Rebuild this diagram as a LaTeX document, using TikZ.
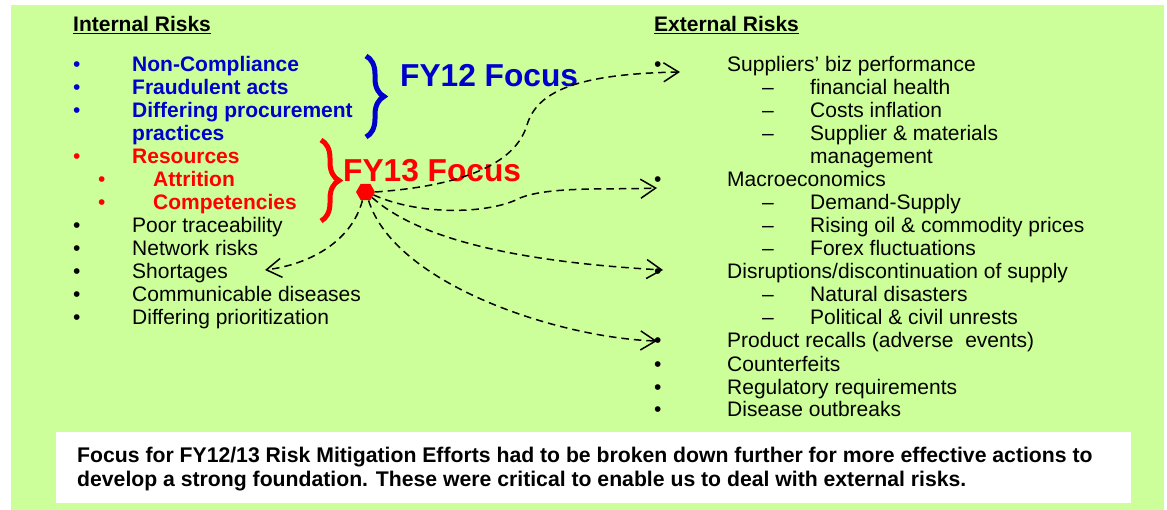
\documentclass[tikz,border=0pt]{standalone}
\usepackage{fontspec}
\setmainfont{Liberation Sans}
\usetikzlibrary{arrows.meta,shapes.geometric,decorations.pathreplacing}
\definecolor{panelgreen}{RGB}{204,255,153}
\definecolor{focusblue}{RGB}{0,0,204}
\definecolor{focusred}{RGB}{255,0,0}
\begin{document}
\begin{tikzpicture}[x=1pt,y=-1pt,
  txt/.style={anchor=base west, inner sep=0pt, font=\fontsize{21}{23}\selectfont},
  head/.style={txt, font=\fontsize{21}{23}\selectfont\bfseries},
  blueitem/.style={txt, text=focusblue, font=\fontsize{21}{23}\selectfont\bfseries},
  reditem/.style={txt, text=focusred, font=\fontsize{21}{23}\selectfont\bfseries},
  focuslabel/.style={anchor=base west, inner sep=0pt, font=\fontsize{31.7}{34}\selectfont\bfseries},
  note/.style={anchor=base west, inner sep=0pt, font=\fontsize{21.2}{24}\selectfont\bfseries},
  link/.style={dashed, dash pattern=on 7.5pt off 5pt, line width=1.5pt,
    -{Straight Barb[length=15pt, width=19pt, line width=1.5pt]}},
  bracemark/.style={decorate, line width=5pt},
]
\useasboundingbox (0,0) rectangle (1167,510);
% panel and summary box
\fill[panelgreen] (11,5) rectangle (1164,510);
\fill[white] (56,432) rectangle (1131,503);

% ---------- internal risks ----------
\node[head] (ihead) at (73,32) {\underline{Internal Risks}};
\node[txt, text=focusblue] (ib1) at (73,72) {•};
\node[blueitem] (i1) at (132,72) {Non-Compliance};
\node[txt, text=focusblue] (ib2) at (73,95) {•};
\node[blueitem] (i2) at (132,95) {Fraudulent acts};
\node[txt, text=focusblue] (ib3) at (73,118) {•};
\node[blueitem] (i3) at (132,118) {Differing procurement};
\node[blueitem] (i3b) at (132,141) {practices};
\node[txt, text=focusred] (ib4) at (73,164) {•};
\node[reditem] (i4) at (132,164) {Resources};
\node[txt, text=focusred] (ib5) at (98,187) {•};
\node[reditem] (i5) at (153,187) {Attrition};
\node[txt, text=focusred] (ib6) at (98,210) {•};
\node[reditem] (i6) at (153,210) {Competencies};
\node[txt] (ib7) at (73,233) {•};
\node[txt] (i7) at (132,233) {Poor traceability};
\node[txt] (ib8) at (73,256) {•};
\node[txt] (i8) at (132,256) {Network risks};
\node[txt] (ib9) at (73,279) {•};
\node[txt] (i9) at (132,279) {Shortages};
\node[txt] (ib10) at (73,302) {•};
\node[txt] (i10) at (132,302) {Communicable diseases};
\node[txt] (ib11) at (73,325) {•};
\node[txt] (i11) at (132,325) {Differing prioritization};

% ---------- focus braces and labels ----------
\draw[bracemark, focusblue, decoration={brace, amplitude=18pt}] (366,56) -- (366,137);
\node[focuslabel, text=focusblue] (fy12) at (400,87) {FY12 Focus};
\draw[bracemark, focusred, decoration={brace, amplitude=18pt}] (321,140) -- (321,221);
\node[focuslabel, text=focusred] (fy13) at (343,182) {FY13 Focus};
\node[regular polygon, regular polygon sides=6, fill=focusred, minimum size=19pt,
      inner sep=0pt] (hub) at (365.5,192) {};

% ---------- external risks ----------
\node[head] (ehead) at (654,32) {\underline{External Risks}};
\node[txt] (eb1) at (654,72) {•};
\node[txt] (e1) at (727,72) {Suppliers’ biz performance};
\node[txt] (ed1) at (762,95) {–};
\node[txt] (e1a) at (810,95) {financial health};
\node[txt] (ed2) at (762,118) {–};
\node[txt] (e1b) at (810,118) {Costs inflation};
\node[txt] (ed3) at (762,141) {–};
\node[txt] (e1c) at (810,141) {Supplier \& materials};
\node[txt] (e1d) at (810,164) {management};
\node[txt] (eb2) at (654,187) {•};
\node[txt] (e2) at (727,187) {Macroeconomics};
\node[txt] (ed4) at (762,210) {–};
\node[txt] (e2a) at (810,210) {Demand-Supply};
\node[txt] (ed5) at (762,233) {–};
\node[txt] (e2b) at (810,233) {Rising oil \& commodity prices};
\node[txt] (ed6) at (762,256) {–};
\node[txt] (e2c) at (810,256) {Forex fluctuations};
\node[txt] (eb3) at (654,279) {•};
\node[txt] (e3) at (727,279) {Disruptions/discontinuation of supply};
\node[txt] (ed7) at (762,302) {–};
\node[txt] (e3a) at (810,302) {Natural disasters};
\node[txt] (ed8) at (762,325) {–};
\node[txt] (e3b) at (810,325) {Political \& civil unrests};
\node[txt] (eb4) at (654,348) {•};
\node[txt] (e4) at (727,348) {Product recalls (adverse\ \ events)};
\node[txt] (eb5) at (654,371) {•};
\node[txt] (e5) at (727,371) {Counterfeits};
\node[txt] (eb6) at (654,394) {•};
\node[txt] (e6) at (727,394) {Regulatory requirements};
\node[txt] (eb7) at (654,417) {•};
\node[txt] (e7) at (727,417) {Disease outbreaks};

% ---------- summary ----------
\node[note] (n1) at (77,462) {Focus for FY12/13 Risk Mitigation Efforts had to be broken down further for more effective actions to};
\node[note] (n2) at (77,486) {develop a strong foundation. These were critical to enable us to deal with external risks.};

% ---------- links from the FY13 hub ----------
\coordinate (t1) at (680,72);
\coordinate (t2) at (657,188);
\coordinate (t3) at (663,270);
\coordinate (t4) at (657,341);
\coordinate (t5) at (265,270);
\draw[link] (hub.east) .. controls (460,186) and (515,165) .. (527,125)
  .. controls (537,92) and (575,74) .. (t1);
\draw[link] (hub.-20) .. controls (420,216) and (490,214) .. (520,198)
  .. controls (550,186) and (610,190) .. (t2);
\draw[link] (hub.-40) .. controls (420,240) and (520,262) .. (t3);
\draw[link] (hub.-70) .. controls (395,285) and (560,338) .. (t4);
\draw[link] (hub.-110) .. controls (352,240) and (312,264) .. (t5);
\end{tikzpicture}
\end{document}
